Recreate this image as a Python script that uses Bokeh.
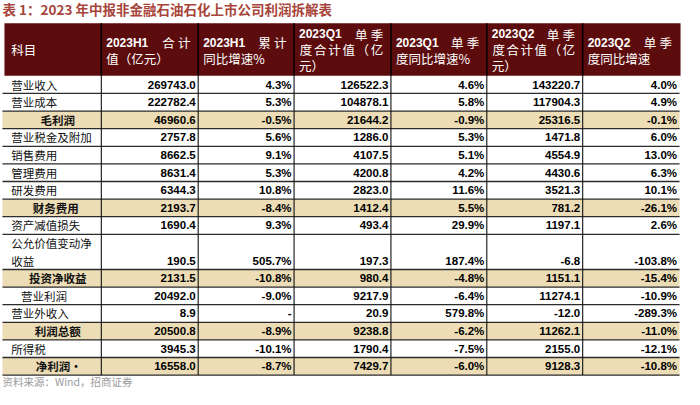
from bokeh.plotting import figure
from bokeh.models import ColumnDataSource, Range1d
from bokeh.embed import file_html
from bokeh.resources import INLINE
from bokeh.core.properties import value

# ---------------- data ----------------
title_text = "表 1：2023 年中报非金融石油石化上市公司利润拆解表"
source_text = "资料来源：Wind，招商证券"

items = ["营业收入", "营业成本", "毛利润", "营业税金及附加", "销售费用", "管理费用",
         "研发费用", "财务费用", "资产减值损失", "公允价值变动净收益", "投资净收益",
         "营业利润", "营业外收入", "利润总额", "所得税", "净利润·"]

h1_total = [269743.0, 222782.4, 46960.6, 2757.8, 8662.5, 8631.4, 6344.3, 2193.7,
            1690.4, 190.5, 2131.5, 20492.0, 8.9, 20500.8, 3945.3, 16558.0]
h1_yoy = [4.3, 5.3, -0.5, 5.6, 9.1, 5.3, 10.8, -8.4, 9.3, 505.7, -10.8, -9.0,
          None, -8.9, -10.1, -8.7]
q1_total = [126522.3, 104878.1, 21644.2, 1286.0, 4107.5, 4200.8, 2823.0, 1412.4,
            493.4, 197.3, 980.4, 9217.9, 20.9, 9238.8, 1790.4, 7429.7]
q1_yoy = [4.6, 5.8, -0.9, 5.3, 5.1, 4.2, 11.6, 5.5, 29.9, 187.4, -4.8, -6.4,
          579.8, -6.2, -7.5, -6.0]
q2_total = [143220.7, 117904.3, 25316.5, 1471.8, 4554.9, 4430.6, 3521.3, 781.2,
            1197.1, -6.8, 1151.1, 11274.1, -12.0, 11262.1, 2155.0, 9128.3]
q2_yoy = [4.0, 4.9, -0.1, 6.0, 13.0, 6.3, 10.1, -26.1, 2.6, -103.8, -15.4, -10.9,
          -289.3, -11.0, -12.1, -10.8]

highlight_rows = ["毛利润", "财务费用", "投资净收益", "利润总额", "净利润·"]

hdr_first = "科目"
hdr_code = ["2023H1", "2023H1", "2023Q1", "2023Q1", "2023Q2", "2023Q2"]
hdr_word = ["合计", "累计", "单季", "单季", "单季", "单季"]
hdr_rest = [["值（亿元）"], ["同比增速%"], ["度合计值（亿", "元）"],
            ["度同比增速%"], ["度合计值（亿", "元）"], ["度同比增速"]]

# ---------------- layout (pixel-like units) ----------------
W, H = 684, 389
TABLE_L, TABLE_R = 5, 690
HDR_TOP, HDR_BOT = 27.5, 81.5
UNIT = 18.1
col_edges = [5, 105, 203, 300, 398, 495, 592, 690]
label_center = {"毛利润": 61, "财务费用": 59, "投资净收益": 61, "利润总额": 61,
                "净利润·": 62, "营业利润": 47}
two_line = {"公允价值变动净收益": ("公允价值变动净", "收益")}

HDR_BG = "#5C0C0C"
BEIGE = "#ECDDB6"
TITLE_C = "#A8453A"
CJK = value("Noto Sans CJK SC")
LAT = value("Liberation Sans")

p = figure(width=W, height=H, output_backend="svg", toolbar_location=None,
           x_range=Range1d(3, 695), y_range=Range1d(404, 4),
           min_border=0, outline_line_color=None)
p.axis.visible = False
p.xgrid.visible = False
p.ygrid.visible = False
p.background_fill_color = "white"

# row geometry
tops, bots = [], []
y = HDR_BOT
for it in items:
    h = UNIT * (2 if it in two_line else 1)
    tops.append(y)
    bots.append(y + h)
    y += h
TABLE_BOT = y

# beige rows
hl = [i for i, it in enumerate(items) if it in highlight_rows]
p.quad(left=[TABLE_L] * len(hl), right=[TABLE_R] * len(hl),
       top=[tops[i] for i in hl], bottom=[bots[i] for i in hl],
       fill_color=BEIGE, line_color=None)

# header
p.quad(left=[7], right=[691], top=[HDR_TOP], bottom=[HDR_BOT],
       fill_color=HDR_BG, line_color=None)

# horizontal lines
ys = bots
p.segment(x0=[TABLE_L] * len(ys), x1=[TABLE_R] * len(ys), y0=ys, y1=ys,
          line_color="#2b2b2b", line_width=1.3)

# vertical lines
inner = col_edges[1:-1]
p.segment(x0=inner, x1=inner, y0=[HDR_BOT] * len(inner), y1=[TABLE_BOT] * len(inner),
          line_color="#111111", line_width=1.1)
p.segment(x0=inner, x1=inner, y0=[HDR_TOP] * len(inner), y1=[HDR_BOT] * len(inner),
          line_color="#000000", line_width=1.5)

# title & source
p.text(x=[5], y=[12.5], text=[title_text], text_font=CJK, text_font_size="13.5px",
       text_font_style="bold", text_color=TITLE_C, text_align="left",
       text_baseline="middle")
p.text(x=[5], y=[396], text=[source_text], text_font=CJK, text_font_size="10.5px",
       text_color="#9a9a9a", text_align="left", text_baseline="middle")

# header texts
p.text(x=[14], y=[54.5], text=[hdr_first], text_font=CJK, text_font_size="12.5px",
       text_color="white", text_align="left", text_baseline="middle")

code_x, code_y = [], []
cx, cy, ct = [], [], []          # single centred characters
lx, lyy, lt = [], [], []         # left-aligned lines
for k in range(6):
    left, right = col_edges[k + 1], col_edges[k + 2]
    three = len(hdr_rest[k]) == 2
    ly = [38.5, 54.5, 70.5] if three else [47.5, 64]
    code_x.append(left + 5)
    code_y.append(ly[0])
    chars = list(hdr_word[k])
    for j, ch in enumerate(chars):
        cx.append(right - 14 - 16 * (len(chars) - 1 - j))
        cy.append(ly[0])
        ct.append(ch)
    for j, line in enumerate(hdr_rest[k]):
        if three and j == 0:
            n = len(line)
            c0, c1 = left + 12, right - 14
            for m, ch in enumerate(line):
                cx.append(c0 + (c1 - c0) * m / (n - 1))
                cy.append(ly[1])
                ct.append(ch)
        else:
            lx.append(left + 5)
            lyy.append(ly[j + 1])
            lt.append(line)

p.text(x=code_x, y=code_y, text=hdr_code, text_font=LAT, text_font_size="12px",
       text_font_style="bold", text_color="white", text_align="left",
       text_baseline="middle")
p.text(x=cx, y=cy, text=ct, text_font=CJK, text_font_size="12.5px",
       text_color="white", text_align="center", text_baseline="middle")
p.text(x=lx, y=lyy, text=lt, text_font=CJK, text_font_size="12.5px",
       text_color="white", text_align="left", text_baseline="middle")

# row labels
lab_l = dict(x=[], y=[], t=[])
lab_c = dict(x=[], y=[], t=[])
lab_cr = dict(x=[], y=[], t=[])
for i, it in enumerate(items):
    if it in two_line:
        for j, s in enumerate(two_line[it]):
            lab_l["x"].append(14)
            lab_l["y"].append(tops[i] + UNIT * (j + 0.5))
            lab_l["t"].append(s)
    elif it in label_center:
        d = lab_c if it in highlight_rows else lab_cr
        d["x"].append(label_center[it])
        d["y"].append((tops[i] + bots[i]) / 2)
        d["t"].append(it)
    else:
        lab_l["x"].append(14)
        lab_l["y"].append((tops[i] + bots[i]) / 2)
        lab_l["t"].append(it)
p.text(x=lab_l["x"], y=lab_l["y"], text=lab_l["t"], text_font=CJK,
       text_font_size="11.5px", text_color="#111111", text_align="left",
       text_baseline="middle")
p.text(x=lab_c["x"], y=lab_c["y"], text=lab_c["t"], text_font=CJK,
       text_font_size="11.5px", text_font_style="bold", text_color="#111111",
       text_align="center", text_baseline="middle")
p.text(x=lab_cr["x"], y=lab_cr["y"], text=lab_cr["t"], text_font=CJK,
       text_font_size="11.5px", text_color="#111111",
       text_align="center", text_baseline="middle")

# numbers
def fmt_v(v):
    return f"{v:.1f}"


def fmt_p(v):
    return "-" if v is None else f"{v:.1f}%"


cols = [(h1_total, fmt_v), (h1_yoy, fmt_p), (q1_total, fmt_v), (q1_yoy, fmt_p),
        (q2_total, fmt_v), (q2_yoy, fmt_p)]
nx, ny, nt = [], [], []
for k, (vals, f) in enumerate(cols):
    right = col_edges[k + 2]
    for i, v in enumerate(vals):
        nx.append(right - 2.5)
        ny.append(bots[i] - UNIT / 2)
        nt.append(f(v))
src = ColumnDataSource(dict(x=nx, y=ny, t=nt))
p.text(x="x", y="y", text="t", source=src, text_font=LAT, text_font_size="11.5px",
       text_font_style="bold", text_color="#000000", text_align="right",
       text_baseline="middle")

open("out.html", "w").write(file_html(p, INLINE))
